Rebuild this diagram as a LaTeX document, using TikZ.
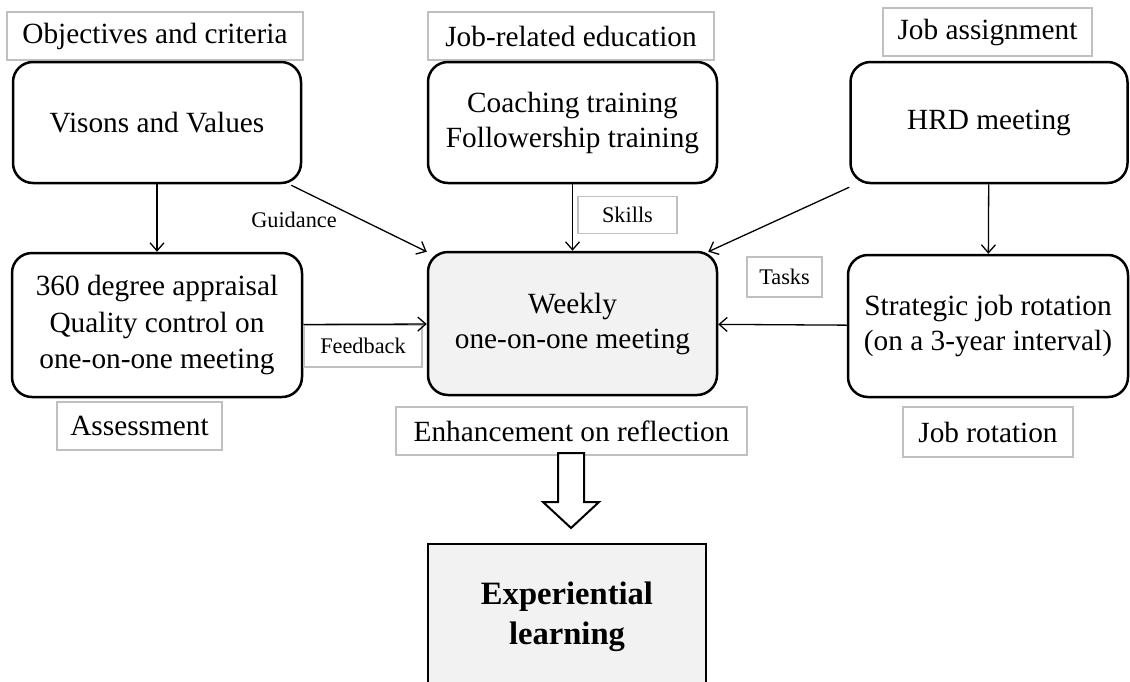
\documentclass[tikz,border=0pt]{standalone}
\usepackage{fontspec}
\setmainfont{Liberation Serif}
\usetikzlibrary{arrows.meta,calc}
\definecolor{lblgray}{RGB}{192,192,192}
\definecolor{boxfill}{RGB}{242,242,242}
\begin{document}
\begin{tikzpicture}[x=1pt,y=-1pt,
  mainfont/.style={font=\fontsize{29.3}{35}\selectfont},
  rbox/.style={draw=black, line width=2.5pt, rounded corners=20pt, align=center, mainfont, inner sep=0pt},
  lbl/.style={draw=lblgray, line width=1.8pt, align=center, mainfont, inner sep=0pt},
  slbl/.style={draw=lblgray, line width=1.8pt, align=center, font=\fontsize{22.3}{25}\selectfont, inner sep=0pt},
  conn/.style={line width=1.3pt, -{Straight Barb[length=8pt,width=14pt,line width=1.3pt]}}
]
\useasboundingbox (0,0) rectangle (1130,681);
\begin{scope}
\clip (0,0) rectangle (1130,681);
% top row
\node[lbl, minimum width=296pt, minimum height=48pt] (obj) at (155,36) {Objectives and criteria};
\node[rbox, minimum width=288pt, minimum height=121pt] (vis) at (157,122.5) {Visons and Values};
\node[lbl, minimum width=286pt, minimum height=48pt] (edu) at (571,36) {Job-related education};
\node[rbox, minimum width=289pt, minimum height=121pt] (coach) at (572.5,122.5) {Coaching training\\Followership training};
\node[lbl, minimum width=209pt, minimum height=48pt] (jas) at (987.5,32) {Job assignment};
\node[rbox, minimum width=277pt, minimum height=121pt] (hrd) at (989,122.5) {HRD meeting};
% middle row
\node[rbox, minimum width=290pt, minimum height=144pt, font=\fontsize{29.3}{36.5}\selectfont] (app) at (157,325) {360 degree appraisal\\Quality control on\\one-on-one meeting};
\node[lbl, minimum width=165pt, minimum height=48pt] (asm) at (139.5,426) {Assessment};
\node[rbox, fill=boxfill, minimum width=289pt, minimum height=143pt] (week) at (572.5,323.5) {Weekly\\one-on-one meeting};
\node[rbox, minimum width=280pt, minimum height=142pt] (strat) at (988,326) {Strategic job rotation\\(on a 3-year interval)};
\node[lbl, minimum width=170pt, minimum height=50pt] (rot) at (988,432) {Job rotation};
\node[lbl, minimum width=351pt, minimum height=48pt] (enh) at (571.5,431) {Enhancement on reflection};
% small labels
\node[slbl, minimum width=99pt, minimum height=37pt] (skills) at (627.5,215) {Skills};
\node[slbl, minimum width=75pt, minimum height=40pt] (tasks) at (784.5,277) {Tasks};
\node[slbl, minimum width=118pt, minimum height=42pt] (fb) at (363,346) {Feedback};
\node[font=\fontsize{22.3}{25}\selectfont, inner sep=0pt] (guid) at (294,220) {Guidance};
% bottom box
\node[draw=black, line width=2.5pt, fill=boxfill, minimum width=278pt, minimum height=160pt, inner sep=0pt] (exp) at (567,624) {};
\node[font=\fontsize{32.6}{40}\selectfont\bfseries, align=center, inner sep=0pt] (exptxt) at (567,617) {Experiential\\learning};
% connectors
\draw[conn] (vis) -- (app);
\draw[conn] (coach) -- (week);
\draw[conn] (hrd) -- (strat);
\draw[conn] (app) -- (week);
\draw[conn] (strat) -- (week);
\draw[conn] ([xshift=-11pt,yshift=-1pt]vis.south east) -- ([xshift=0pt,yshift=-1pt]week.north west);
\draw[conn] ([xshift=0pt,yshift=-3pt]hrd.south west) -- ([xshift=-10pt,yshift=-1pt]week.north east);
% block arrow
\coordinate (bt) at (571,453);
\draw[line width=2pt, fill=white, line join=miter]
  ($(bt)+(-13,0)$) -- ($(bt)+(13,0)$) -- ($(bt)+(13,49)$) -- ($(bt)+(28,49)$)
  -- ($(bt)+(0,75)$) -- ($(bt)+(-28,49)$) -- ($(bt)+(-13,49)$) -- cycle;
\end{scope}
\end{tikzpicture}
\end{document}
